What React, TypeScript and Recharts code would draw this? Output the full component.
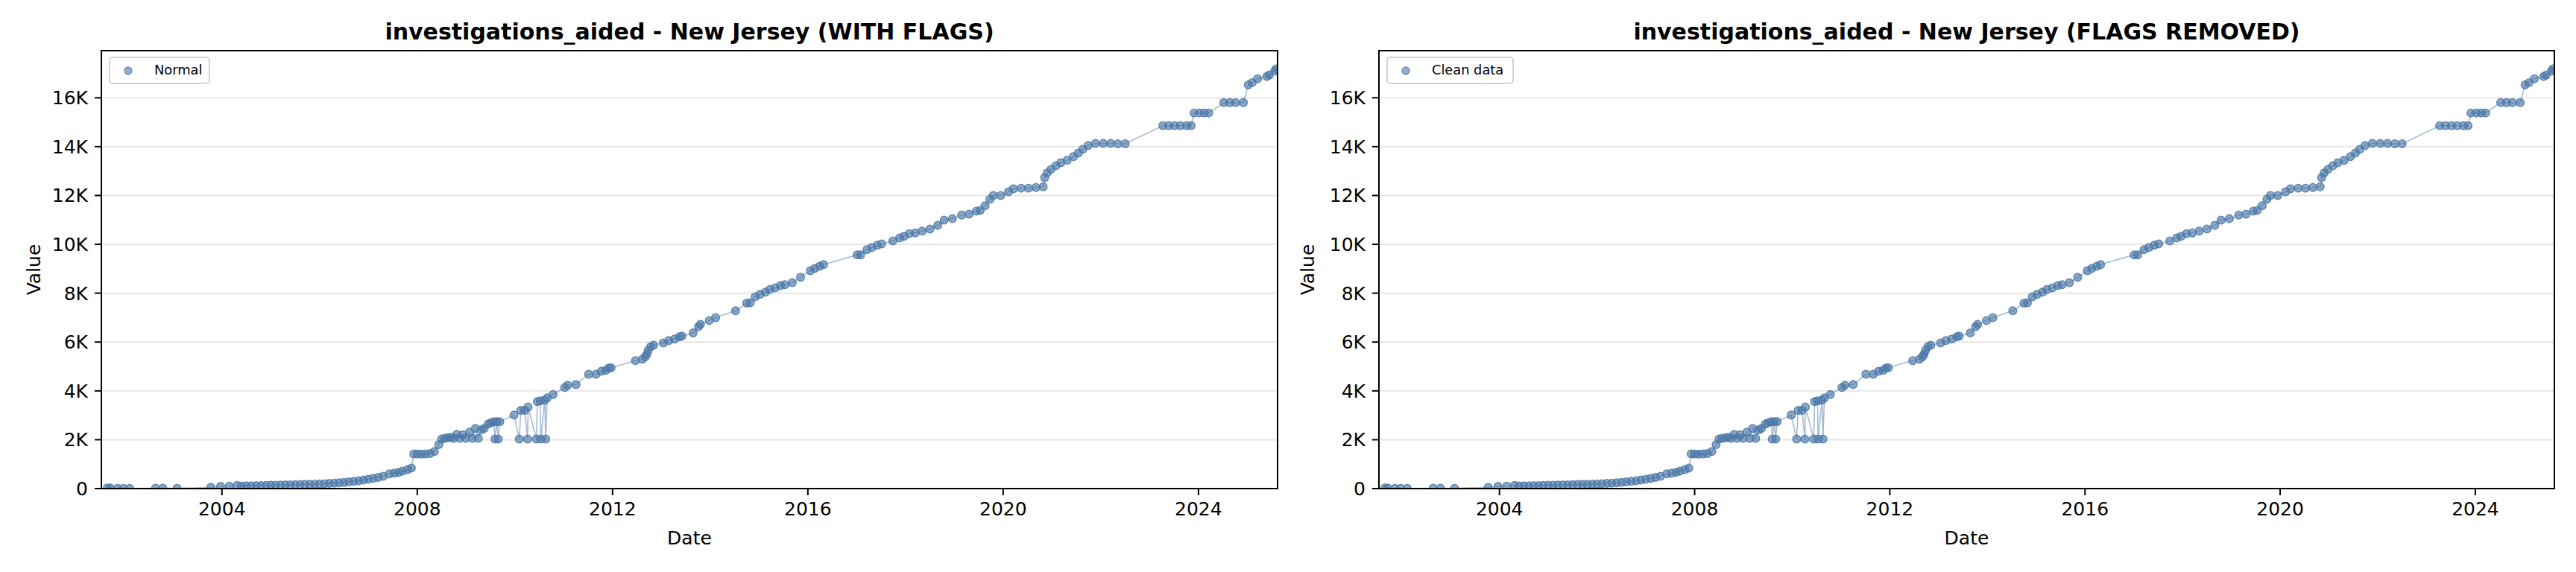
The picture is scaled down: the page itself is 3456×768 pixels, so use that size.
import React from 'react';
import { LineChart, Line, XAxis, YAxis, CartesianGrid } from 'recharts';

const dates: number[] = [
  2001.65, 2001.71, 2001.86, 2001.98, 2002.11, 2002.64, 2002.79, 2003.08, 2003.77, 2003.97, 2004.15, 2004.31,
  2004.40, 2004.50, 2004.60, 2004.70, 2004.80, 2004.90, 2005.00, 2005.10, 2005.20, 2005.30, 2005.40, 2005.50,
  2005.60, 2005.70, 2005.80, 2005.90, 2006.00, 2006.10, 2006.20, 2006.30, 2006.40, 2006.50, 2006.60, 2006.70,
  2006.80, 2006.90, 2007.00, 2007.10, 2007.20, 2007.30,
  2007.43, 2007.53, 2007.62, 2007.70, 2007.80, 2007.88, 2007.93, 2008.00, 2008.08, 2008.17, 2008.26, 2008.35,
  2008.44, 2008.50, 2008.56, 2008.63, 2008.69, 2008.75, 2008.81, 2008.87, 2008.93, 2008.99, 2009.07, 2009.13,
  2009.19, 2009.25, 2009.31, 2009.37, 2009.45, 2009.51, 2009.57, 2009.59, 2009.63, 2009.66, 2009.69, 2009.98,
  2010.09, 2010.12, 2010.20, 2010.26, 2010.27, 2010.44, 2010.46, 2010.52, 2010.53, 2010.61, 2010.63, 2010.66,
  2010.78, 2011.02, 2011.08, 2011.25, 2011.51, 2011.66, 2011.77, 2011.86, 2011.92, 2011.97,
  2012.47, 2012.61, 2012.67, 2012.70, 2012.73, 2012.78, 2012.84, 2013.04, 2013.15, 2013.27, 2013.37, 2013.42,
  2013.65, 2013.76, 2013.80, 2013.98, 2014.11, 2014.52, 2014.75, 2014.82, 2014.92, 2015.02, 2015.13, 2015.22,
  2015.33, 2015.44, 2015.53, 2015.68, 2015.85, 2016.05, 2016.14, 2016.24, 2016.32, 2017.01, 2017.08, 2017.21,
  2017.31, 2017.42, 2017.51, 2017.74, 2017.88, 2017.97, 2018.08, 2018.20, 2018.34, 2018.50, 2018.66, 2018.79,
  2018.96, 2019.15, 2019.30, 2019.45, 2019.53, 2019.63, 2019.73, 2019.80, 2019.95, 2020.11, 2020.21, 2020.37,
  2020.52, 2020.67, 2020.82, 2020.85, 2020.90, 2020.98, 2021.08, 2021.18, 2021.31, 2021.44, 2021.54, 2021.63,
  2021.74, 2021.89, 2022.05, 2022.20, 2022.35, 2022.50,
  2023.27, 2023.39, 2023.51, 2023.63, 2023.76, 2023.85, 2023.91, 2024.02, 2024.12, 2024.21, 2024.52, 2024.64,
  2024.76, 2024.92, 2025.02, 2025.10, 2025.21, 2025.40, 2025.45, 2025.56, 2025.59,
];

const values: number[] = [
  20, 20, 10, 10, 5, 15, 15, 10, 50, 90, 100, 130,
  110, 112, 116, 120, 125, 130, 135, 140, 145, 150, 155, 160,
  165, 172, 178, 185, 192, 200, 210, 222, 236, 250, 272, 296,
  320, 350, 380, 420, 460, 500,
  600, 630, 660, 720, 780, 840, 1420, 1420, 1410, 1420, 1430, 1515,
  1800, 2030, 2060, 2080, 2100, 2060, 2215, 2060, 2200, 2060, 2310, 2060,
  2460, 2060, 2400, 2460, 2640, 2700, 2740, 2030, 2740, 2030, 2740, 3010,
  2030, 3200, 3200, 2030, 3340, 2030, 3560, 3590, 2030, 3620, 2030, 3710,
  3850, 4140, 4230, 4260, 4680, 4680, 4800, 4840, 4930, 4950,
  5240, 5300, 5400, 5500, 5660, 5810, 5870, 5960, 6060, 6120, 6210, 6240,
  6370, 6630, 6720, 6880, 7000, 7280, 7590, 7610, 7850, 7950, 8040, 8150,
  8220, 8310, 8350, 8430, 8650, 8920, 9010, 9100, 9170, 9570, 9570, 9780,
  9870, 9960, 10020, 10140, 10260, 10330, 10440, 10470, 10540, 10630, 10780, 10990,
  11050, 11200, 11240, 11360, 11390, 11580, 11850, 12000, 12000, 12150, 12270, 12300,
  12300, 12330, 12360, 12730, 12920, 13070, 13220, 13340, 13440, 13590, 13740, 13890,
  14040, 14130, 14130, 14130, 14120, 14120,
  14860, 14860, 14860, 14860, 14860, 14860, 15380, 15380, 15380, 15380, 15800, 15800,
  15800, 15800, 16530, 16620, 16780, 16870, 16930, 17090, 17180,
];

const xTicks = [2004, 2008, 2012, 2016, 2020, 2024];
const yTicks = [0, 2000, 4000, 6000, 8000, 10000, 12000, 14000, 16000];
const titles = [
  'investigations_aided - New Jersey (WITH FLAGS)',
  'investigations_aided - New Jersey (FLAGS REMOVED)',
];
const legendLabels = ['Normal', 'Clean data'];
const xLabel = 'Date';
const yLabel = 'Value';

const data = dates.map((d, i) => ({ date: d, value: values[i] }));

const COLOR = '#4C78A8';
const FONT = '"DejaVu Sans", sans-serif';
const X_DOMAIN: [number, number] = [2001.53, 2025.62];
const Y_DOMAIN: [number, number] = [0, 17930];
const PLOT_TOP = 68;
const PLOT_BOTTOM = 656;

const fmtY = (v: number) => (v === 0 ? '0' : `${v / 1000}K`);

type PanelProps = {
  left: number;
  yAxisWidth: number;
  marginRight: number;
};

function Panel({ left, yAxisWidth, marginRight }: PanelProps) {
  const tickStyle = { fill: '#000', fontSize: 25, fontFamily: FONT };
  return (
    <div style={{ position: 'absolute', left, top: 0 }}>
      <LineChart
        width={1728}
        height={768}
        data={data}
        margin={{ top: PLOT_TOP, right: marginRight, bottom: 0, left: 0 }}
      >
        <CartesianGrid vertical={false} stroke="#e6e6e6" strokeWidth={2} />
        <XAxis
          dataKey="date"
          type="number"
          domain={X_DOMAIN}
          allowDataOverflow
          ticks={xTicks}
          tickFormatter={(v: number) => String(v)}
          height={768 - PLOT_BOTTOM}
          tick={tickStyle}
          tickSize={9}
          tickMargin={9}
          axisLine={{ stroke: '#000', strokeWidth: 2 }}
          tickLine={{ stroke: '#000', strokeWidth: 2 }}
        />
        <YAxis
          type="number"
          domain={Y_DOMAIN}
          allowDataOverflow
          ticks={yTicks}
          tickFormatter={fmtY}
          width={yAxisWidth}
          tick={tickStyle}
          tickSize={9}
          tickMargin={9}
          axisLine={{ stroke: '#000', strokeWidth: 2 }}
          tickLine={{ stroke: '#000', strokeWidth: 2 }}
        />
        <Line
          dataKey="value"
          stroke={COLOR}
          strokeOpacity={0.5}
          strokeWidth={1.6}
          dot={{ r: 5.3, fill: COLOR, fillOpacity: 0.65, stroke: COLOR, strokeOpacity: 0.85, strokeWidth: 1.4 }}
          activeDot={false}
          isAnimationActive={false}
        />
      </LineChart>
    </div>
  );
}

type OverlayPanel = {
  plotLeft: number;
  plotRight: number;
  yLabelX: number;
  legendW: number;
  title: string;
  legend: string;
};

const overlays: OverlayPanel[] = [
  { plotLeft: 136, plotRight: 1714, yLabelX: 54, legendW: 134, title: titles[0], legend: legendLabels[0] },
  { plotLeft: 1850, plotRight: 3427, yLabelX: 1763, legendW: 169, title: titles[1], legend: legendLabels[1] },
];

export default function App() {
  return (
    <div style={{ position: 'absolute', left: 0, top: 0, width: 3456, height: 768, background: '#fff', overflow: 'hidden' }}>
      <Panel left={0} yAxisWidth={136} marginRight={14} />
      <Panel left={1728} yAxisWidth={122} marginRight={29} />
      <svg
        width={3456}
        height={768}
        style={{ position: 'absolute', left: 0, top: 0, pointerEvents: 'none' }}
      >
        {overlays.map((o, i) => {
          const cx = (o.plotLeft + o.plotRight) / 2;
          const lx = o.plotLeft + 11;
          return (
            <g key={i} fontFamily={FONT}>
              <rect
                x={o.plotLeft}
                y={PLOT_TOP}
                width={o.plotRight - o.plotLeft}
                height={PLOT_BOTTOM - PLOT_TOP}
                fill="none"
                stroke="#000"
                strokeWidth={2}
              />
              <text x={cx} y={53} textAnchor="middle" fontSize={30} fontWeight="bold" fill="#000">
                {o.title}
              </text>
              <text x={cx} y={731} textAnchor="middle" fontSize={25} fill="#000">
                {xLabel}
              </text>
              <text
                x={o.yLabelX}
                y={362}
                textAnchor="middle"
                fontSize={25}
                fill="#000"
                transform={`rotate(-90 ${o.yLabelX} 362)`}
              >
                {yLabel}
              </text>
              <rect x={lx} y={77} width={o.legendW} height={35} rx={4} fill="#fff" fillOpacity={0.8} stroke="#d4d4d4" strokeWidth={2} />
              <circle cx={lx + 25} cy={95} r={5} fill={COLOR} fillOpacity={0.6} stroke={COLOR} strokeOpacity={0.8} strokeWidth={1.3} />
              <text x={lx + 60} y={100} fontSize={17.8} fill="#000">
                {o.legend}
              </text>
            </g>
          );
        })}
      </svg>
    </div>
  );
}
